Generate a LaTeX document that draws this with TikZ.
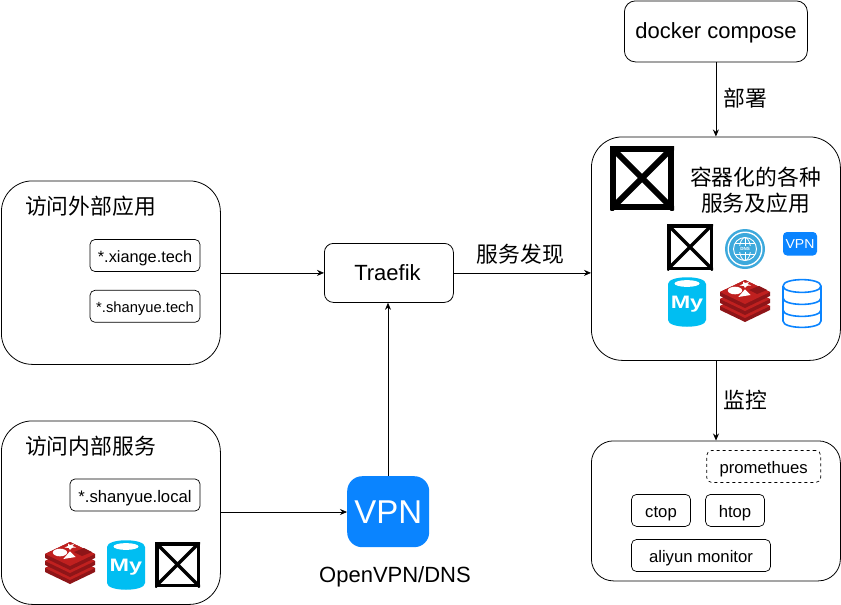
\documentclass[tikz,border=0pt]{standalone}
\usepackage{fontspec}
\setmainfont{Liberation Sans}
\newfontfamily\cjk{Noto Sans CJK SC}
\usetikzlibrary{arrows.meta}
\tikzset{
  x=1pt,y=-1pt,
  boxbase/.style={draw=black,line width=0.8pt,fill=white,rounded corners=#1,anchor=north west,inner sep=0pt},
  lbl/.style={inner sep=0pt,align=center,font=\fontsize{#1}{#1}\selectfont,text height=15pt,text depth=0pt},
  lbl/.default=22,
  cn/.style={inner sep=0pt,align=center,font=\fontsize{21.8}{26}\selectfont\cjk},
  conn/.style={draw=black,line width=0.7pt,-{Stealth[length=7pt,width=6pt]}},
  tag/.style={draw=black,line width=0.7pt,rounded corners=5pt,fill=white,inner sep=0pt,font=\fontsize{16.7}{16.7}\selectfont,text height=14pt,text depth=0pt},
}
\definecolor{vpnblue}{HTML}{0A84FF}
\definecolor{mycyan}{HTML}{00BEF2}
\definecolor{redisred}{HTML}{C0201F}
\definecolor{redisdark}{HTML}{8E1518}
\definecolor{dnsblue}{HTML}{3DA9DC}
\newcommand{\xbox}[4]{% x y size linewidth
  \begin{scope}[shift={(#1,#2)}]
    \fill[white] (0,0) rectangle (#3,#3);
    \begin{scope}
      \clip (0,0) rectangle (#3,#3);
      \draw[line width=#4pt,line cap=butt] (0,0) -- (#3,#3) (#3,0) -- (0,#3);
    \end{scope}
    \draw[line width=#4pt] (#4*.5,#4*.5) rectangle (#3-#4*.5,#3-#4*.5);
  \end{scope}}
\newcommand{\mysqlicon}[2]{% x y, 38x50
  \begin{scope}[shift={(#1,#2)}]
    \fill[mycyan] (0,7) .. controls (0,-2) and (38,-2) .. (38,7) -- (38,43) .. controls (38,52) and (0,52) .. (0,43) -- cycle;
    \fill[white] (19,6.5) ellipse [x radius=12.5,y radius=3.4];
    \node[inner sep=0pt,anchor=base,text=white,xscale=1.3,font=\fontsize{18}{18}\selectfont\bfseries] at (19,31.5) {My};
  \end{scope}}
\newcommand{\redisicon}[2]{% x y, 50x42
  \begin{scope}[shift={(#1,#2)}]
    \fill[redisdark] (0,26) -- (25,14) -- (50,26) -- (50,30) -- (25,42) -- (0,30) -- cycle;
    \fill[redisred] (0,26) -- (25,14) -- (50,26) -- (25,38) -- cycle;
    \fill[redisdark] (0,19) -- (25,7) -- (50,19) -- (50,23) -- (25,35) -- (0,23) -- cycle;
    \fill[redisred] (0,19) -- (25,7) -- (50,19) -- (25,31) -- cycle;
    \fill[redisdark] (0,12) -- (25,0) -- (50,12) -- (50,16) -- (25,28) -- (0,16) -- cycle;
    \fill[redisred] (0,12) -- (25,0) -- (50,12) -- (25,24) -- cycle;
    \fill[white] (15,10.5) ellipse [x radius=7.2,y radius=3.8];
    \fill[white] (18.3,17) -- (30.6,15) -- (25,9.3) -- cycle;
    \fill[white] (23,1.5) -- (25,3) -- (29,2) -- (27.5,4) -- (31,5.5) -- (27,5.8) -- (25,8) -- (23.8,6) -- (19.5,5.5) -- (23,4) -- cycle;
    \fill[redisdark] (29,10) -- (39,6) -- (47,10) -- (37,14) -- cycle;
  \end{scope}}
\begin{document}
\begin{tikzpicture}
\useasboundingbox (0,0) rectangle (841,605);
\fill[white] (0,0) rectangle (841,605);

% containers
\node[boxbase=11pt,minimum width=183pt,minimum height=61pt] (docker) at (624,0.5) {};
\node[lbl] at (716,30.5) {docker compose};
\node[boxbase=31pt,minimum width=249pt,minimum height=223.5pt] (svc) at (591,136.5) {};
\node[boxbase=22pt,minimum width=249pt,minimum height=140pt] (mon) at (591,440.5) {};
\node[boxbase=31pt,minimum width=219pt,minimum height=183.5pt] (ext) at (1,180.5) {};
\node[boxbase=31pt,minimum width=219pt,minimum height=183.5pt] (int) at (1,420.5) {};
\node[boxbase=9pt,minimum width=129pt,minimum height=59pt] (traefik) at (324,243) {};
\node[lbl] at (387.5,272.5) {Traefik};
\node[draw=none,fill=vpnblue,rounded corners=15pt,minimum width=82pt,minimum height=71pt,inner sep=0pt,anchor=north west] (vpn) at (347,476) {};
\node[inner sep=0pt,text=white,font=\fontsize{33}{33}\selectfont] at (vpn.center) {VPN};
\node[lbl] (vpnlabel) at (395,574.5) {OpenVPN/DNS};

% connectors
\draw[conn] (ext.east |- traefik.west) -- (traefik.west);
\draw[conn] (int.east |- 0,512) -- (vpn.west |- 0,512);
\draw[conn] (vpn.north -| 388,0) -- (traefik.south -| 388,0);
\draw[conn] (traefik.east) -- (svc.west |- traefik.east);
\draw[conn] (docker.south) -- (svc.north -| docker.south);
\draw[conn] (svc.south -| 716,0) -- (mon.north -| 716,0);

% connector labels
\node[cn] (l1) at (520.5,254) {服务发现};
\node[cn] (l2) at (745.5,98) {部署};
\node[cn] (l3) at (745.5,400) {监控};

% titles
\node[cn] (t1) at (90.5,206) {访问外部应用};
\node[cn] (t2) at (90.5,446) {访问内部服务};
\node[cn] (t3) at (755.5,190) {容器化的各种\\服务及应用};

% tags
\node[tag,font=\fontsize{16.3}{16.3}\selectfont,minimum width=110pt,minimum height=32pt] (a) at (145,255.5) {*.xiange.tech};
\node[tag,font=\fontsize{14.75}{14.75}\selectfont,minimum width=110pt,minimum height=32pt,text height=12pt] (b) at (145,306.3) {*.shanyue.tech};
\node[tag,minimum width=130pt,minimum height=32pt] (c) at (135,495) {*.shanyue.local};
\node[tag,dash pattern=on 3pt off 3pt,minimum width=114pt,minimum height=32pt,text height=13pt] (d) at (763.7,466.5) {promethues};
\node[tag,minimum width=59pt,minimum height=32pt] (e) at (661,510.4) {ctop};
\node[tag,minimum width=59pt,minimum height=32pt] (f) at (735,510.4) {htop};
\node[tag,minimum width=139pt,minimum height=32pt,text height=13pt] (g) at (701,555.5) {aliyun monitor};

% icons: services
\xbox{610}{146}{64}{6}
\xbox{667}{224}{46}{3.5}
\begin{scope}[shift={(745,249)}]
  \fill[dnsblue] (0,0) circle (20);
  \fill[white] (0,0) circle (17.5);
  \fill[dnsblue] (0,0) circle (16);
  \draw[white,line width=0.9pt] (0,0) circle (11.5);
  \draw[white,line width=0.8pt] (0,0) ellipse [x radius=5.5,y radius=11.5];
  \draw[white,line width=0.8pt] (0,-11.5) -- (0,11.5) (-10,-5.5) -- (10,-5.5) (-10,5.5) -- (10,5.5);
  \fill[dnsblue] (-8,-2.8) rectangle (8,2.8);
  \node[inner sep=0pt,text=white,font=\fontsize{4.5}{4.5}\selectfont\bfseries] at (0,0) {DNS};
\end{scope}
\fill[vpnblue,rounded corners=4pt] (783,232) rectangle (817,255.5);
\node[inner sep=0pt,text=white,xscale=1.08,font=\fontsize{13}{13}\selectfont] at (800,243.7) {VPN};
\mysqlicon{668}{277}
\redisicon{720}{280}
\begin{scope}[shift={(782,279)}]
  \draw[vpnblue,line width=1.6pt,fill=white] (1,7) -- (1,42) .. controls (1,50.5) and (39,50.5) .. (39,42) -- (39,7);
  \draw[vpnblue,line width=1.6pt] (1,7) .. controls (1,-1.5) and (39,-1.5) .. (39,7) .. controls (39,15.5) and (1,15.5) .. (1,7);
  \draw[vpnblue,line width=1.6pt] (1,19) .. controls (1,27.5) and (39,27.5) .. (39,19);
  \draw[vpnblue,line width=1.6pt] (1,31) .. controls (1,39.5) and (39,39.5) .. (39,31);
\end{scope}

% icons: internal
\redisicon{45}{542}
\mysqlicon{107}{540}
\xbox{155}{542}{45}{3.5}
\end{tikzpicture}
\end{document}
